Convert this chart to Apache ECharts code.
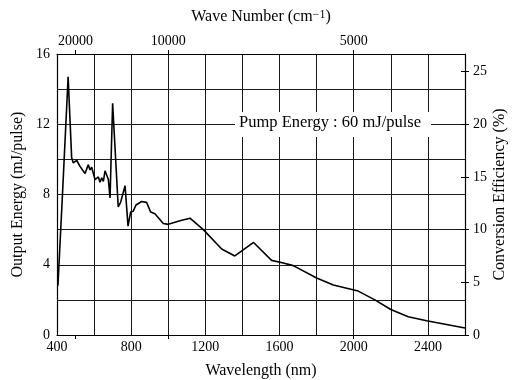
<!DOCTYPE html>
<html>
<head>
<meta charset="utf-8">
<script src="https://cdn.jsdelivr.net/npm/echarts@6/dist/echarts.min.js"></script>
<style>
  html, body { margin: 0; padding: 0; background: #fff; }
  #chart { width: 513px; height: 380px; }
</style>
</head>
<body>
<div id="chart"></div>
<script>
// data
const wavelengthNm = [405, 430, 460, 479, 488, 506, 524, 551, 569, 578, 587, 596, 605, 623, 632, 641, 650, 659, 677, 686,
  700, 730, 743, 767, 783, 797, 811, 826, 856, 883, 905, 928, 973, 1000, 1063, 1117, 1189, 1288, 1359, 1460,
  1557, 1620, 1674, 1800, 1890, 2024, 2114, 2200, 2294, 2393, 2500, 2600];
const outputEnergy = [2.8, 8.1, 14.7, 10.1, 9.8, 9.95, 9.6, 9.2, 9.7, 9.4, 9.55, 9.5, 8.85, 9.0, 8.7, 8.95, 8.75, 9.35, 8.85, 7.8,
  13.2, 7.3, 7.55, 8.5, 6.2, 7.0, 7.05, 7.4, 7.6, 7.55, 7.0, 6.9, 6.35, 6.3, 6.5, 6.65, 6.0, 4.9, 4.5, 5.27,
  4.25, 4.1, 3.95, 3.25, 2.85, 2.5, 2.0, 1.45, 1.04, 0.81, 0.6, 0.4];
const wavenumberTicks = [20000, 10000, 5000];
const pumpEnergy = 60; // mJ/pulse

const font = '"Liberation Serif", "DejaVu Serif", serif';
const wnPos = wavenumberTicks.map((w) => 1e7 / w);
const effMax = 16 / pumpEnergy * 100;

const chart = echarts.init(document.getElementById('chart'), null, { renderer: 'canvas' });

const labelStyle = { color: '#000', fontFamily: font, fontSize: 14 };
const nameStyle = { color: '#000', fontFamily: font, fontSize: 16 };

chart.setOption({
  animation: false,
  backgroundColor: '#fff',
  grid: { left: 57, right: 48, top: 54, bottom: 45, containLabel: false, outerBoundsMode: 'none' },
  xAxis: [
    {
      type: 'value',
      min: 400,
      max: 2600,
      interval: 200,
      name: 'Wavelength (nm)',
      nameLocation: 'middle',
      nameGap: 28,
      nameMoveOverlap: false,
      nameTextStyle: nameStyle,
      axisLine: { show: true, onZero: false, lineStyle: { color: '#000', width: 1.2 } },
      axisTick: { show: false },
      axisLabel: {
        ...labelStyle,
        margin: 5,
        formatter: (v) => (v % 400 === 0 ? String(v) : ''),
      },
      splitLine: { show: true, lineStyle: { color: '#1a1a1a', width: 1 } },
    },
    {
      type: 'value',
      position: 'top',
      min: 400,
      max: 2600,
      name: 'Wave Number (cm{sup|−1})',
      nameLocation: 'middle',
      nameGap: 29,
      nameMoveOverlap: false,
      nameTextStyle: {
        ...nameStyle,
        rich: { sup: { fontFamily: font, fontSize: 12, color: '#000', padding: [0, 0, 4, 0] } },
      },
      axisLine: { show: true, onZero: false, lineStyle: { color: '#000', width: 1.2 } },
      axisTick: { show: true, customValues: wnPos, length: 4, lineStyle: { color: '#000' } },
      axisLabel: {
        ...labelStyle,
        margin: 6,
        customValues: wnPos,
        formatter: (v) => String(Math.round(1e7 / v)),
      },
      splitLine: { show: false },
    },
    {
      type: 'value',
      position: 'top',
      min: 400,
      max: 2600,
      axisLine: { show: false },
      axisTick: { show: true, inside: true, customValues: wnPos, length: 4, lineStyle: { color: '#000' } },
      axisLabel: { show: false },
      splitLine: { show: false },
    },
  ],
  yAxis: [
    {
      type: 'value',
      min: 0,
      max: 16,
      interval: 2,
      name: 'Output Energy (mJ/pulse)',
      nameLocation: 'middle',
      nameGap: 31,
      nameMoveOverlap: false,
      nameTextStyle: nameStyle,
      axisLine: { show: true, onZero: false, lineStyle: { color: '#000', width: 1.2 } },
      axisTick: { show: false },
      axisLabel: {
        ...labelStyle,
        margin: 7,
        formatter: (v) => (v % 4 === 0 ? String(v) : ''),
      },
      splitLine: { show: true, lineStyle: { color: '#1a1a1a', width: 1 } },
    },
    {
      type: 'value',
      position: 'right',
      min: 0,
      max: effMax,
      interval: 5,
      name: 'Conversion Efficiency (%)',
      nameLocation: 'middle',
      nameGap: 27,
      nameMoveOverlap: false,
      nameRotate: 90,
      nameTextStyle: nameStyle,
      axisLine: { show: true, onZero: false, lineStyle: { color: '#000', width: 1.2 } },
      axisTick: { show: true, length: 4, lineStyle: { color: '#000' } },
      axisLabel: { ...labelStyle, margin: 8, showMaxLabel: false },
      splitLine: { show: false },
    },
    {
      type: 'value',
      position: 'right',
      min: 0,
      max: effMax,
      interval: 5,
      axisLine: { show: false },
      axisTick: { show: true, inside: true, length: 4, lineStyle: { color: '#000' } },
      axisLabel: { show: false },
      splitLine: { show: false },
    },
  ],
  graphic: [
    {
      type: 'rect',
      left: 235,
      top: 112,
      shape: { width: 196, height: 25 },
      style: { fill: '#fff' },
      z: 10,
    },
    {
      type: 'text',
      left: 239,
      top: 114,
      style: { text: 'Pump Energy : ' + pumpEnergy + ' mJ/pulse', fill: '#000', font: '16.5px ' + font },
      z: 11,
    },
  ],
  series: [
    {
      type: 'line',
      xAxisIndex: 0,
      yAxisIndex: 0,
      data: wavelengthNm.map((x, i) => [x, outputEnergy[i]]),
      showSymbol: false,
      lineStyle: { color: '#000', width: 1.6 },
      z: 5,
    },
  ],
});
</script>
</body>
</html>
